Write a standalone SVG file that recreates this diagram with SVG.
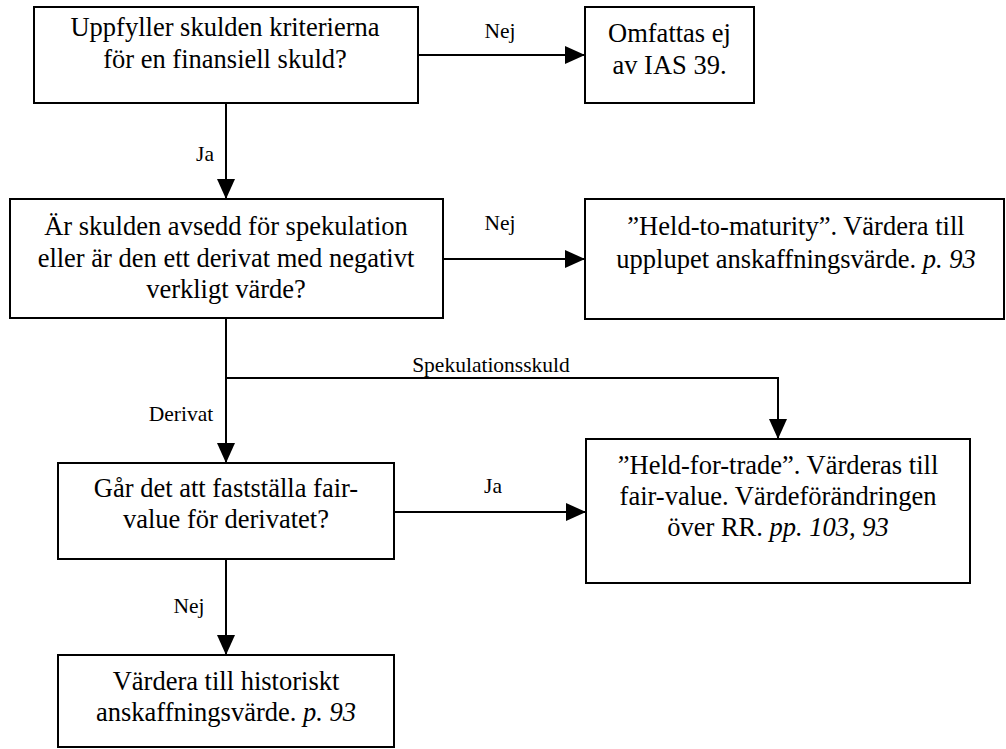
<svg xmlns="http://www.w3.org/2000/svg" width="1006" height="749" viewBox="0 0 1006 749">
<style>
.box{fill:#fff;stroke:#000;stroke-width:2}
.t{font-family:"Liberation Serif","Times New Roman",Tinos,Times,serif;font-size:26.5px;fill:#000;text-anchor:middle}
.l{font-family:"Liberation Serif","Times New Roman",Tinos,Times,serif;font-size:21.5px;fill:#000;text-anchor:middle}
.c{fill:none;stroke:#000;stroke-width:2}
.i{font-style:italic}
</style>
<defs>
<marker id="ah" markerUnits="userSpaceOnUse" markerWidth="20" markerHeight="18" refX="20" refY="9" orient="auto">
<path d="M0,0 L20,9 L0,18 Z" fill="#000"/>
</marker>
</defs>
<g id="connectors">
<line class="c" x1="418" y1="55" x2="585" y2="55" marker-end="url(#ah)"/>
<line class="c" x1="226" y1="103" x2="226" y2="199" marker-end="url(#ah)"/>
<line class="c" x1="443" y1="259" x2="585" y2="259" marker-end="url(#ah)"/>
<line class="c" x1="226" y1="318" x2="226" y2="463" marker-end="url(#ah)"/>
<polyline class="c" points="226,378 778,378 778,439" marker-end="url(#ah)"/>
<line class="c" x1="394" y1="512" x2="586" y2="512" marker-end="url(#ah)"/>
<line class="c" x1="226" y1="559" x2="226" y2="655" marker-end="url(#ah)"/>
<text class="l" x="500" y="38">Nej</text>
<text class="l" x="205" y="161">Ja</text>
<text class="l" x="500" y="230">Nej</text>
<text class="l" x="491" y="372">Spekulationsskuld</text>
<text class="l" x="181" y="421">Derivat</text>
<text class="l" x="493" y="493">Ja</text>
<text class="l" x="189" y="613">Nej</text>
</g>
<g id="n1">
<rect class="box" x="34" y="7" width="384" height="96"/>
<text class="t" x="225" y="36">Uppfyller skulden kriterierna</text>
<text class="t" x="225" y="68">för en finansiell skuld?</text>
</g>
<g id="n2">
<rect class="box" x="585" y="7" width="169" height="96"/>
<text class="t" x="669.5" y="42">Omfattas ej</text>
<text class="t" x="669.5" y="74">av IAS 39.</text>
</g>
<g id="n3">
<rect class="box" x="10" y="199" width="433" height="119"/>
<text class="t" x="226" y="235">Är skulden avsedd för spekulation</text>
<text class="t" x="226" y="267">eller är den ett derivat med negativt</text>
<text class="t" x="226" y="298">verkligt värde?</text>
</g>
<g id="n4">
<rect class="box" x="585" y="199" width="419" height="120"/>
<text class="t" x="796" y="235">”Held-to-maturity”. Värdera till</text>
<text class="t" x="796" y="268">upplupet anskaffningsvärde. <tspan class="i">p. 93</tspan></text>
</g>
<g id="n5">
<rect class="box" x="58" y="463" width="336" height="96"/>
<text class="t" x="226" y="497">Går det att fastställa fair-</text>
<text class="t" x="226" y="528">value för derivatet?</text>
</g>
<g id="n6">
<rect class="box" x="586" y="439" width="384" height="144"/>
<text class="t" x="778" y="474">”Held-for-trade”. Värderas till</text>
<text class="t" x="778" y="505">fair-value. Värdeförändringen</text>
<text class="t" x="778" y="536">över RR. <tspan class="i">pp. 103, 93</tspan></text>
</g>
<g id="n7">
<rect class="box" x="58" y="655" width="336" height="92"/>
<text class="t" x="226" y="690">Värdera till historiskt</text>
<text class="t" x="226" y="721">anskaffningsvärde. <tspan class="i">p. 93</tspan></text>
</g>
</svg>
